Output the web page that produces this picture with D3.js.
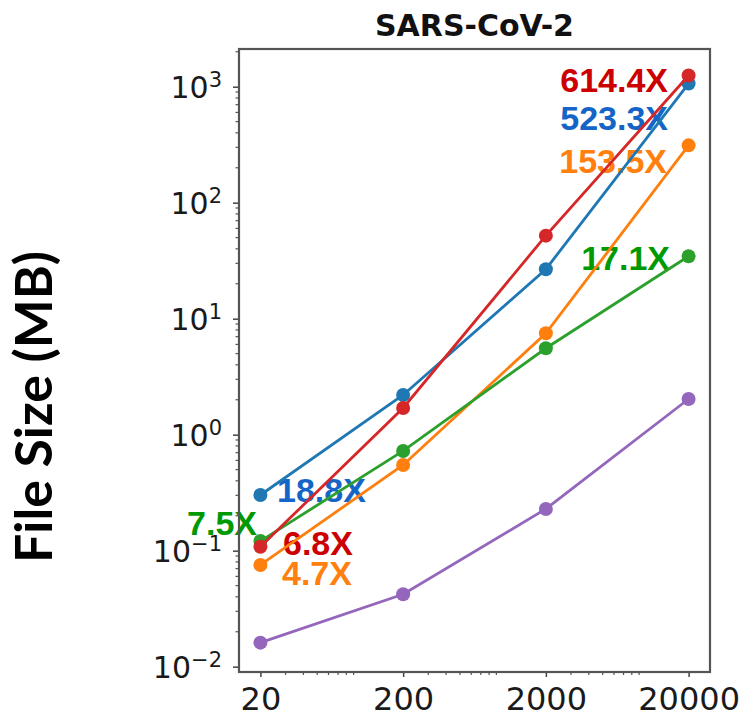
<!DOCTYPE html>
<html>
<head>
<meta charset="utf-8">
<script src="https://cdn.jsdelivr.net/npm/d3@7"></script>
<style>
  body { margin: 0; background: #fff; }
  svg { display: block; }
</style>
</head>
<body>
<div id="chart"></div>
<script>
// File size vs number of sequences, SARS-CoV-2
const sizes = [20, 200, 2000, 20000];
const seriesNames = ["purple", "blue", "red", "orange", "green"];
const purpleVals = [0.0161, 0.0421, 0.229, 2.03];
const blueVals = [0.302, 2.20, 26.7, 1065];
const redVals = [0.108, 1.70, 52, 1250];
const orangeVals = [0.0753, 0.548, 7.48, 312];
const greenVals = [0.121, 0.724, 5.56, 34.5];
const xTicks = [20, 200, 2000, 20000];
const yTicks = [-2, -1, 0, 1, 2, 3];

// ratio annotations: [text, series, point index]
const labelTexts = ["614.4X", "523.3X", "153.5X", "17.1X", "18.8X", "7.5X", "6.8X", "4.7X"];
const labelSeries = ["red", "blue", "orange", "green", "blue", "green", "red", "orange"];
const labelPoint = [3, 3, 3, 3, 0, 0, 0, 0];

const width = 743, height = 718;
const margin = { top: 49, right: 33, bottom: 46, left: 239 };

const lineColor = {
    blue: "#1f77b4", orange: "#ff7f0e", green: "#2ca02c",
    red: "#d62728", purple: "#9467bd"
};
const textColor = {
    blue: "#1565c8", orange: "#ff800e", green: "#009a00", red: "#cc0000"
};
const valuesOf = {
    purple: purpleVals, blue: blueVals, red: redVals,
    orange: orangeVals, green: greenVals
};

const svg = d3.select("#chart").append("svg")
    .attr("width", width)
    .attr("height", height);

const x = d3.scaleLog()
    .domain([20 / Math.pow(10, 0.15), 20000 * Math.pow(10, 0.15)])
    .range([margin.left, width - margin.right]);

const y = d3.scaleLog()
    .domain([Math.pow(10, -2.046), Math.pow(10, 3.325)])
    .range([height - margin.bottom, margin.top]);

const x0 = margin.left, x1 = width - margin.right;
const y0 = height - margin.bottom, y1 = margin.top;

// minor ticks
const xMinor = [];
[10, 100, 1000].forEach(b => d3.range(3, 10).forEach(k => xMinor.push(k * b)));
const yMinor = [];
[0.01, 0.1, 1, 10, 100, 1000].forEach(b => d3.range(2, 10).forEach(k => {
    const v = k * b;
    if (v < y.domain()[1]) yMinor.push(v);
}));

const xAxis = svg.append("g")
    .attr("transform", `translate(0,${y0})`)
    .call(d3.axisBottom(x).tickValues(xTicks).tickSize(5).tickPadding(10)
        .tickFormat(d3.format("d")));
xAxis.select(".domain").remove();
xAxis.selectAll("line").attr("stroke", "#444").attr("stroke-width", 1.5);
xAxis.selectAll("text")
    .style("font-family", "DejaVu Sans")
    .style("font-size", "32px")
    .attr("fill", "#1a1a1a")
    .attr("dy", "0.72em");

svg.append("g")
    .selectAll("line")
    .data(xMinor)
    .join("line")
    .attr("x1", d => x(d)).attr("x2", d => x(d))
    .attr("y1", y0).attr("y2", y0 + 3)
    .attr("stroke", "#555").attr("stroke-width", 1.2);

const yAxis = svg.append("g")
    .attr("transform", `translate(${x0},0)`)
    .call(d3.axisLeft(y).tickValues(yTicks.map(e => Math.pow(10, e))).tickSize(6).tickFormat(""));
yAxis.select(".domain").remove();
yAxis.selectAll("line").attr("stroke", "#444").attr("stroke-width", 1.5);

svg.append("g")
    .selectAll("line")
    .data(yMinor)
    .join("line")
    .attr("x1", x0 - 3.5).attr("x2", x0)
    .attr("y1", d => y(d)).attr("y2", d => y(d))
    .attr("stroke", "#555").attr("stroke-width", 1.2);

// y tick labels as 10^n
const yLab = svg.append("g")
    .selectAll("text")
    .data(yTicks)
    .join("text")
    .attr("x", x0 - 17)
    .attr("y", d => y(Math.pow(10, d)) + 11)
    .attr("text-anchor", "end")
    .style("font-family", "DejaVu Sans")
    .attr("fill", "#1a1a1a");
yLab.append("tspan").style("font-size", "30px").text("10");
yLab.append("tspan")
    .style("font-size", "21px")
    .attr("dy", -11)
    .text(d => d < 0 ? "\u2212" + (-d) : d);

// annotations under the lines
svg.append("g")
    .selectAll("text")
    .data(labelTexts)
    .join("text")
    .attr("x", (d, i) => {
        const px = x(sizes[labelPoint[i]]);
        const dx = [-20.6, -20.6, -21.6, -18.6, 16.6, -3.4, 22.6, 21.6][i];
        return px + dx;
    })
    .attr("y", (d, i) => {
        const py = y(valuesOf[labelSeries[i]][labelPoint[i]]);
        const dy = [16.6, 46.5, 27.6, 13.7, 7, -6, 8, 20][i];
        return py + dy;
    })
    .attr("text-anchor", (d, i) => (labelPoint[i] === 3 || d === "7.5X") ? "end" : "start")
    .style("font-family", "Liberation Sans, Arial, sans-serif")
    .style("font-weight", "bold")
    .style("font-size", "34px")
    .attr("fill", (d, i) => textColor[labelSeries[i]])
    .text(d => d);

const line = d3.line()
    .x((d, i) => x(sizes[i]))
    .y(d => y(d));

const drawOrder = ["purple", "blue", "orange", "green", "red"];
drawOrder.forEach(name => {
    const vals = valuesOf[name];
    svg.append("path")
        .datum(vals)
        .attr("fill", "none")
        .attr("stroke", lineColor[name])
        .attr("stroke-width", 2.8)
        .attr("d", line);
    svg.append("g")
        .selectAll("circle")
        .data(vals)
        .join("circle")
        .attr("cx", (d, i) => x(sizes[i]))
        .attr("cy", d => y(d))
        .attr("r", 7)
        .attr("fill", lineColor[name]);
});

// frame
svg.append("rect")
    .attr("x", x0).attr("y", y1)
    .attr("width", x1 - x0).attr("height", y0 - y1)
    .attr("fill", "none")
    .attr("stroke", "#555")
    .attr("stroke-width", 2.2);

svg.append("text")
    .attr("x", (x0 + x1) / 2)
    .attr("y", 36)
    .attr("text-anchor", "middle")
    .style("font-family", "DejaVu Sans")
    .style("font-weight", "bold")
    .style("font-size", "30px")
    .attr("fill", "#111")
    .text("SARS-CoV-2");

const yTitle = svg.append("text")
    .attr("transform", "translate(52,407) rotate(-90)")
    .attr("text-anchor", "middle")
    .style("font-family", "Lato, 'Open Sans', sans-serif")
    .style("font-weight", "bold")
    .style("font-size", "48px")
    .attr("fill", "#000")
    .text("File Size (MB)");
// match the label's length in the reference
const len = yTitle.node().getComputedTextLength();
yTitle.style("font-size", (48 * 312 / len) + "px");
</script>
</body>
</html>
